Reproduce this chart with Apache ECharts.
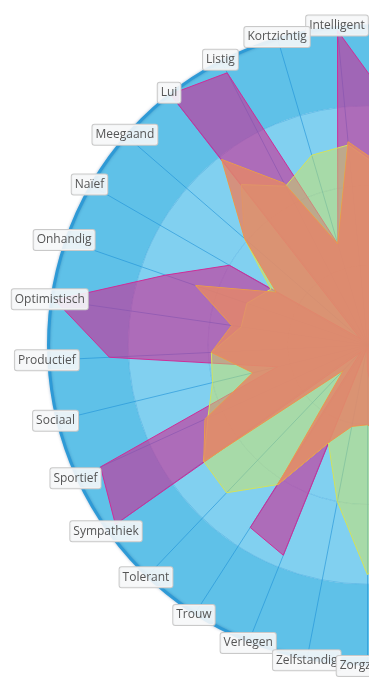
<!DOCTYPE html>
<html>
<head>
<meta charset="utf-8">
<script src="https://cdn.jsdelivr.net/npm/echarts@6/dist/echarts.min.js"></script>
<style>
html,body{margin:0;padding:0;background:#fff;}
#chart{width:369px;height:688px;}
</style>
</head>
<body>
<div id="chart"></div>
<script>
// Visible indicators (left half, counter-clockwise from the top)
const visibleNames = ['Intelligent','Kortzichtig','Listig','Lui','Meegaand','Naïef','Onhandig','Optimistisch','Productief','Sociaal','Sportief','Sympathiek','Tolerant','Trouw','Verlegen','Zelfstandig','Zorgzaam'];
// Indicators on the right half fall outside the picture
const hiddenNames = ['','','','','','','','','','','','','','','',''];
const indicatorNames = visibleNames.concat(hiddenNames);

// Series values (0-100), same order as indicatorNames
const magentaValues = [99,33,96,100,3,50,67,99,81,29,92,97,3,68,71,1,8, 40,50,60,55,45,60,70,65,55,60,70,80,75,70,72,76];
const greenValues   = [63,62,56,64,51,35,40,40,49,50,55,63,64,52,33,50,72, 60,55,50,45,50,55,50,45,50,55,60,55,50,55,60,55];
const orangeValues  = [64,33,57,74,51,33,57,43,49,37,56,63,11,52,33,26,25, 30,40,45,50,40,35,45,50,40,45,50,55,50,45,50,56];

const ringColors = ['#81d0f0','#81d0f0','#81d0f0','#5fc1e8'];

const chart = echarts.init(document.getElementById('chart'), null, {renderer:'canvas'});
const n = indicatorNames.length;
const startAngle = 90 + 180 / n;
const center = [367.5, 345];
const radius = 319;

chart.setOption({
  animation: false,
  radar: [{
    center: center,
    radius: radius,
    startAngle: startAngle,
    splitNumber: 4,
    shape: 'circle',
    indicator: indicatorNames.map(function (nm) { return {name: nm, max: 100}; }),
    axisName: {show: false},
    splitArea: {show: true, areaStyle: {color: ringColors}},
    splitLine: {lineStyle: {color: 'rgba(40,150,215,0.35)', width: 1}},
    axisLine: {lineStyle: {color: 'rgba(30,145,215,0.6)', width: 1}}
  }, {
    center: center,
    radius: radius,
    startAngle: startAngle,
    splitNumber: 1,
    shape: 'circle',
    z: 5,
    indicator: indicatorNames.map(function (nm) { return {name: nm, max: 100}; }),
    nameGap: 2,
    axisName: {
      show: true,
      color: '#555',
      fontFamily: 'Open Sans',
      fontSize: 12,
      backgroundColor: 'rgba(246,247,248,0.9)',
      borderColor: '#c9c9c9',
      borderWidth: 1,
      borderRadius: 2,
      padding: [4, 3],
      align: 'center',
      verticalAlign: 'middle'
    },
    splitArea: {show: false},
    axisLine: {show: false},
    splitLine: {lineStyle: {color: '#2e9ad6', width: 3, shadowColor: 'rgba(0,60,120,0.35)', shadowBlur: 3}}
  }],
  series: [{
    type: 'radar',
    radarIndex: 0,
    symbol: 'none',
    data: [
      {value: magentaValues, name: 'magenta',
       lineStyle: {color: '#d0309a', width: 1},
       areaStyle: {color: '#cc2a95', opacity: 0.6}},
      {value: greenValues, name: 'green',
       lineStyle: {color: '#d6e35a', width: 1},
       areaStyle: {color: '#cde35f', opacity: 0.5}},
      {value: orangeValues, name: 'orange',
       lineStyle: {color: '#f0a838', width: 1},
       areaStyle: {color: '#e3866a', opacity: 0.85}}
    ]
  }]
});
</script>
</body>
</html>
